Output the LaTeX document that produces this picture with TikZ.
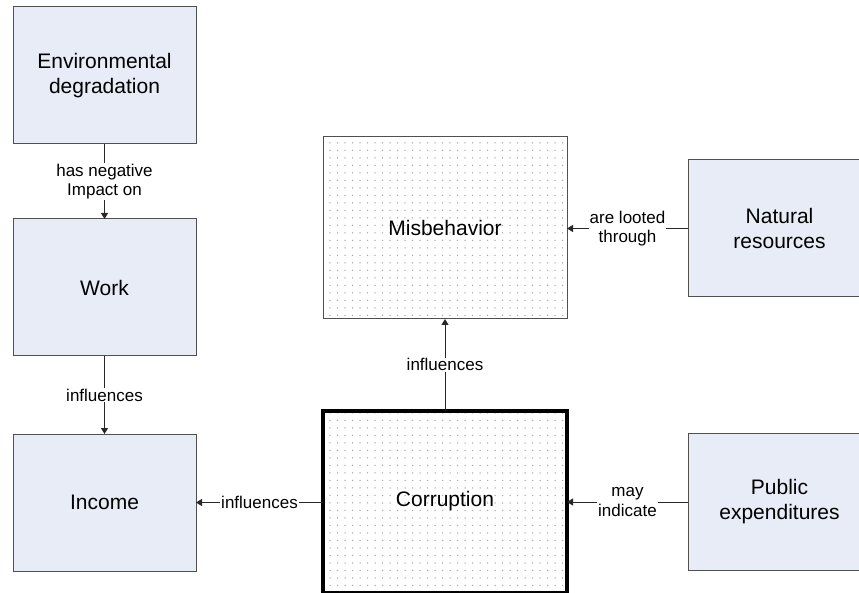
\documentclass[tikz,border=0pt]{standalone}
\usepackage{fontspec}
\setmainfont{Liberation Sans}
\usetikzlibrary{arrows.meta,patterns.meta}
\definecolor{boxblue}{RGB}{231,236,246}
\definecolor{boxline}{RGB}{80,80,80}
\definecolor{linkline}{RGB}{40,40,40}
\tikzset{
  concept/.style={draw=boxline, line width=1pt, fill=boxblue, inner sep=0pt, outer sep=0pt,
    minimum width=183pt, minimum height=137pt, align=center,
    font=\fontsize{21}{25}\selectfont},
  dotted box/.style={draw=boxline, line width=1pt, inner sep=0pt, outer sep=0pt,
    minimum width=244pt, minimum height=182pt, align=center,
    pattern={Dots[distance=7.5pt, radius=0.75pt]}, pattern color=black!35,
    font=\fontsize{21}{25}\selectfont},
  link/.style={draw=linkline, line width=1pt, -{Triangle[length=6pt,width=7pt]}},
  linklabel/.style={fill=white, inner sep=1pt, align=center,
    font=\fontsize{17}{19.5}\selectfont}
}
\begin{document}
\begin{tikzpicture}[x=1pt, y=-1pt]
  \useasboundingbox (0,0) rectangle (859,593);
  \clip (0,0) rectangle (859,593);

  % left column
  \node[concept] (env) at (104.5,75.5) {Environmental\\degradation};
  \node[concept] (work) at (104.5,287.5) {Work};
  \node[concept] (income) at (104.5,502.5) {Income};

  % centre column
  \node[dotted box] (misb) at (445,228) {Misbehavior};
  \node[dotted box, draw=black, line width=4pt] (corr) at (445,501.5) {Corruption};

  % right column
  \node[concept] (nat) at (779.5,228.5) {Natural\\resources};
  \node[concept] (pub) at (779.5,502) {Public\\expenditures};

  % relations
  \draw[link] (env.south) -- node[linklabel] {has negative\\Impact on} (work.north);
  \draw[link] (work.south) -- node[linklabel] {influences} (income.north);
  \draw[link] (corr.west |- income.east) -- node[linklabel] {influences} (income.east);
  \draw[link] (corr.north) -- node[linklabel] {influences} (misb.south);
  \draw[link] (nat.west) -- node[linklabel] {are looted\\through} (misb.east |- nat.west);
  \draw[link] (pub.west) -- node[linklabel] {may\\indicate} (corr.east |- pub.west);
\end{tikzpicture}
\end{document}
